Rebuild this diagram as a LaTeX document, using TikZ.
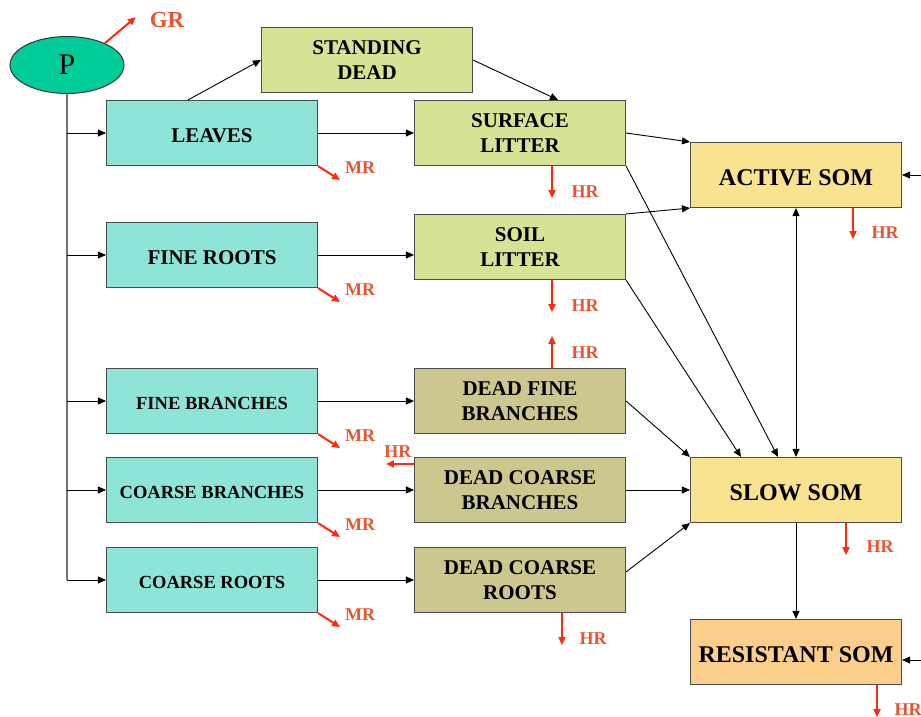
\documentclass[tikz,border=0pt]{standalone}
\usepackage{fontspec}
\setmainfont{Liberation Serif}
\usepackage{tikz}
\usetikzlibrary{shapes.geometric, arrows.meta, positioning, calc}
\definecolor{PoolTeal}{HTML}{00CC99}
\definecolor{LiveTeal}{HTML}{8EE5D7}
\definecolor{LitterGreen}{HTML}{D4E494}
\definecolor{WoodOlive}{HTML}{CCC78F}
\definecolor{SomYellow}{HTML}{FAE38F}
\definecolor{SomOrange}{HTML}{FBCE8C}
\definecolor{FluxRed}{HTML}{FF2A0E}
\definecolor{FluxText}{HTML}{E8552E}
\tikzset{
  % Box styles
  poolbox/.style={rectangle, draw=black!70, line width=1.1pt, minimum width=211pt, minimum height=65pt, font=\bfseries\fontsize{21}{25}\selectfont, align=center, inner sep=2pt, execute at begin node={\rule{0pt}{0.92em}}},
  livebox/.style={poolbox, fill=LiveTeal},
  smalltext/.style={font=\bfseries\fontsize{18.5}{21}\selectfont},
  litterbox/.style={poolbox, fill=LitterGreen},
  woodbox/.style={poolbox, fill=WoodOlive},
  sombox/.style={poolbox, font=\bfseries\fontsize{24}{27}\selectfont},
  pnode/.style={ellipse, draw=black!80, line width=1pt, fill=PoolTeal, minimum width=114pt, minimum height=57pt, inner sep=0pt, font=\fontsize{30}{32}\selectfont},
  % Arrow styles
  arrow/.style={->, >={Triangle[length=8pt,width=7pt]}, line width=0.9pt, black},
  trunk/.style={line width=1.2pt, black!55},
  flux/.style={->, >={Triangle[length=8pt,width=7pt]}, line width=2pt, FluxRed},
  % Label styles
  fluxlabel/.style={text=FluxText, font=\bfseries\fontsize{18}{20}\selectfont, inner sep=0pt}
}
\begin{document}
\begin{tikzpicture}[x=1pt, y=-1pt]
  \useasboundingbox (0,0) rectangle (921,717);
  % Production
  \node[pnode] (p) at (67,65) {P};
  % Live pools
  \node[livebox] (leaves) at (212,133) {LEAVES};
  \node[livebox] (froots) at (212,255) {FINE ROOTS};
  \node[livebox, smalltext] (fbranch) at (212,401) {FINE BRANCHES};
  \node[livebox, smalltext] (cbranch) at (212,490) {COARSE BRANCHES};
  \node[livebox, smalltext] (croots) at (212,580) {COARSE ROOTS};
  % Litter pools
  \node[litterbox] (standing) at (367,60) {STANDING\\DEAD};
  \node[litterbox] (surflit) at (520,133) {SURFACE\\LITTER};
  \node[litterbox] (soillit) at (520,247) {SOIL\\LITTER};
  \node[woodbox] (deadfb) at (520,401) {DEAD FINE\\BRANCHES};
  \node[woodbox] (deadcb) at (520,490) {DEAD COARSE\\BRANCHES};
  \node[woodbox] (deadcr) at (520,580) {DEAD COARSE\\ROOTS};
  % SOM pools
  \node[sombox, fill=SomYellow] (active) at (796,175) {ACTIVE SOM};
  \node[sombox, fill=SomYellow] (slow) at (796,490) {SLOW SOM};
  \node[sombox, fill=SomOrange] (resist) at (796,652) {RESISTANT SOM};
  \coordinate (act-in) at (921,175);
  \coordinate (res-in) at (921,660);

  % Allocation from P
  \draw[trunk] (p.south) -- (p.south |- croots.west);
  \foreach \b in {leaves,froots,fbranch,cbranch,croots}
    \draw[arrow] (p.south |- \b.west) -- (\b.west);

  % Transfers
  \draw[arrow] ($(leaves.north)+(-24,0)$) -- (standing.west);
  \draw[arrow] (standing.east) -- ($(surflit.north)+(38,0)$);
  \draw[arrow] (leaves.east) -- (surflit.west);
  \draw[arrow] (froots.east) -- (froots.east -| soillit.west);
  \draw[arrow] (fbranch.east) -- (deadfb.west);
  \draw[arrow] (cbranch.east) -- (deadcb.west);
  \draw[arrow] (croots.east) -- (deadcr.west);
  \draw[arrow] (surflit.east) -- (active.north west);
  \draw[arrow] (soillit.north east) -- (active.south west);
  \draw[arrow] (surflit.south east) -- ($(slow.north)+(-18,0)$);
  \draw[arrow] (soillit.south east) -- ($(slow.north)+(-55,0)$);
  \draw[arrow] (deadfb.east) -- (slow.north west);
  \draw[arrow] (deadcb.east) -- (slow.west);
  \draw[arrow] ($(deadcr.north east)+(0,25)$) -- (slow.south west);
  \draw[arrow, <->] (active.south) -- (slow.north);
  \draw[arrow] (slow.south) -- (resist.north);
  \draw[arrow] (act-in) -- (active.east);
  \draw[arrow] (res-in) -- (res-in -| resist.east);

  % Respiration
  \draw[flux] (p.30) -- ++(31,-26);
  \node[fluxlabel, font=\bfseries\fontsize{23}{25}\selectfont] (gr) at (167,20) {GR};
  \foreach \b in {leaves,froots,fbranch,cbranch,croots}{
    \draw[flux] (\b.south east) -- ++(22,14);
    \node[fluxlabel] (mr-\b) at ($(\b.south east)+(42,2)$) {MR};
  }
  \draw[flux] ($(surflit.south)+(32,0)$) -- ++(0,32);
  \node[fluxlabel] (hr-surf) at ($(surflit.south)+(65,26)$) {HR};
  \draw[flux] ($(soillit.south)+(32,0)$) -- ++(0,32);
  \node[fluxlabel] (hr-soil) at ($(soillit.south)+(65,26)$) {HR};
  \draw[flux] ($(deadfb.north)+(32,0)$) -- ++(0,-32);
  \node[fluxlabel] (hr-dfb) at ($(deadfb.north)+(65,-15)$) {HR};
  \draw[flux] ($(deadcb.north west)+(0,7)$) -- ++(-28,0);
  \node[fluxlabel] (hr-dcb) at ($(deadcb.north west)+(-16,-5)$) {HR};
  \draw[flux] ($(deadcr.south)+(42,0)$) -- ++(0,32);
  \node[fluxlabel] (hr-dcr) at ($(deadcr.south)+(73,26)$) {HR};
  \draw[flux] ($(active.south)+(57,0)$) -- ++(0,31);
  \node[fluxlabel] (hr-act) at ($(active.south)+(89,25)$) {HR};
  \draw[flux] ($(slow.south)+(50,0)$) -- ++(0,32);
  \node[fluxlabel] (hr-slow) at ($(slow.south)+(84,24)$) {HR};
  \draw[flux] ($(resist.south)+(81,0)$) -- ++(0,32);
  \node[fluxlabel] (hr-res) at ($(resist.south)+(112,25)$) {HR};
\end{tikzpicture}
\end{document}
